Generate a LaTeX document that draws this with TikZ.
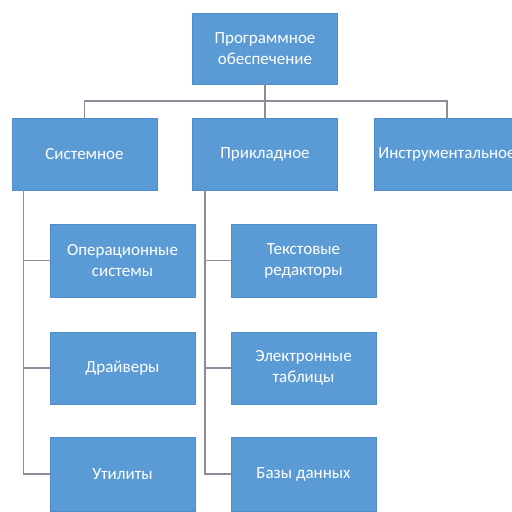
\documentclass[tikz,border=0pt]{standalone}
\usepackage{fontspec}
\setmainfont{Carlito}
\definecolor{boxblue}{HTML}{5B9BD5}
\definecolor{boxedge}{HTML}{4F8CC9}
\definecolor{linegray}{HTML}{8C8C9A}
\begin{document}
\begin{tikzpicture}[x=1pt,y=-1pt,
  box/.style={rectangle, fill=boxblue, draw=boxedge, line width=0.8pt,
    minimum width=145pt, minimum height=72pt, inner sep=0pt,
    text=white, align=center, font=\fontsize{17}{21}\selectfont},
  conn/.style={draw=linegray, line width=1.3pt}]
\useasboundingbox (0,0) rectangle (512,512);
\node[box, minimum height=71pt] (top) at (265,48.5) {Программное\\обеспечение};
\node[box] (sys) at (84.5,154) {Системное};
\node[box] (app) at (265,154) {Прикладное};
\node[box] (ins) at (447,154) {Инструментальное};
\node[box, minimum height=73pt] (os) at (122.5,260.5) {Операционные\\системы};
\node[box] (drv) at (122.5,368) {Драйверы};
\node[box, minimum height=74pt] (utl) at (122.5,474) {Утилиты};
\node[box, minimum height=73pt] (txt) at (303.5,260.5) {Текстовые\\редакторы};
\node[box] (tab) at (303.5,368) {Электронные\\таблицы};
\node[box, minimum height=74pt] (db) at (303.5,474) {Базы данных};
\coordinate (bus) at (265,101);
\draw[conn] (top.south) -- (bus);
\draw[conn] (sys.north) |- (bus) -| (ins.north);
\draw[conn] (bus) -- (app.north);
\coordinate (sl) at ([xshift=12pt]sys.south west);
\coordinate (al) at ([xshift=13pt]app.south west);
\draw[conn] (sl) |- (utl.west);
\draw[conn] (sl |- os.west) -- (os.west);
\draw[conn] (sl |- drv.west) -- (drv.west);
\draw[conn] (al) |- (db.west);
\draw[conn] (al |- txt.west) -- (txt.west);
\draw[conn] (al |- tab.west) -- (tab.west);
\end{tikzpicture}
\end{document}
